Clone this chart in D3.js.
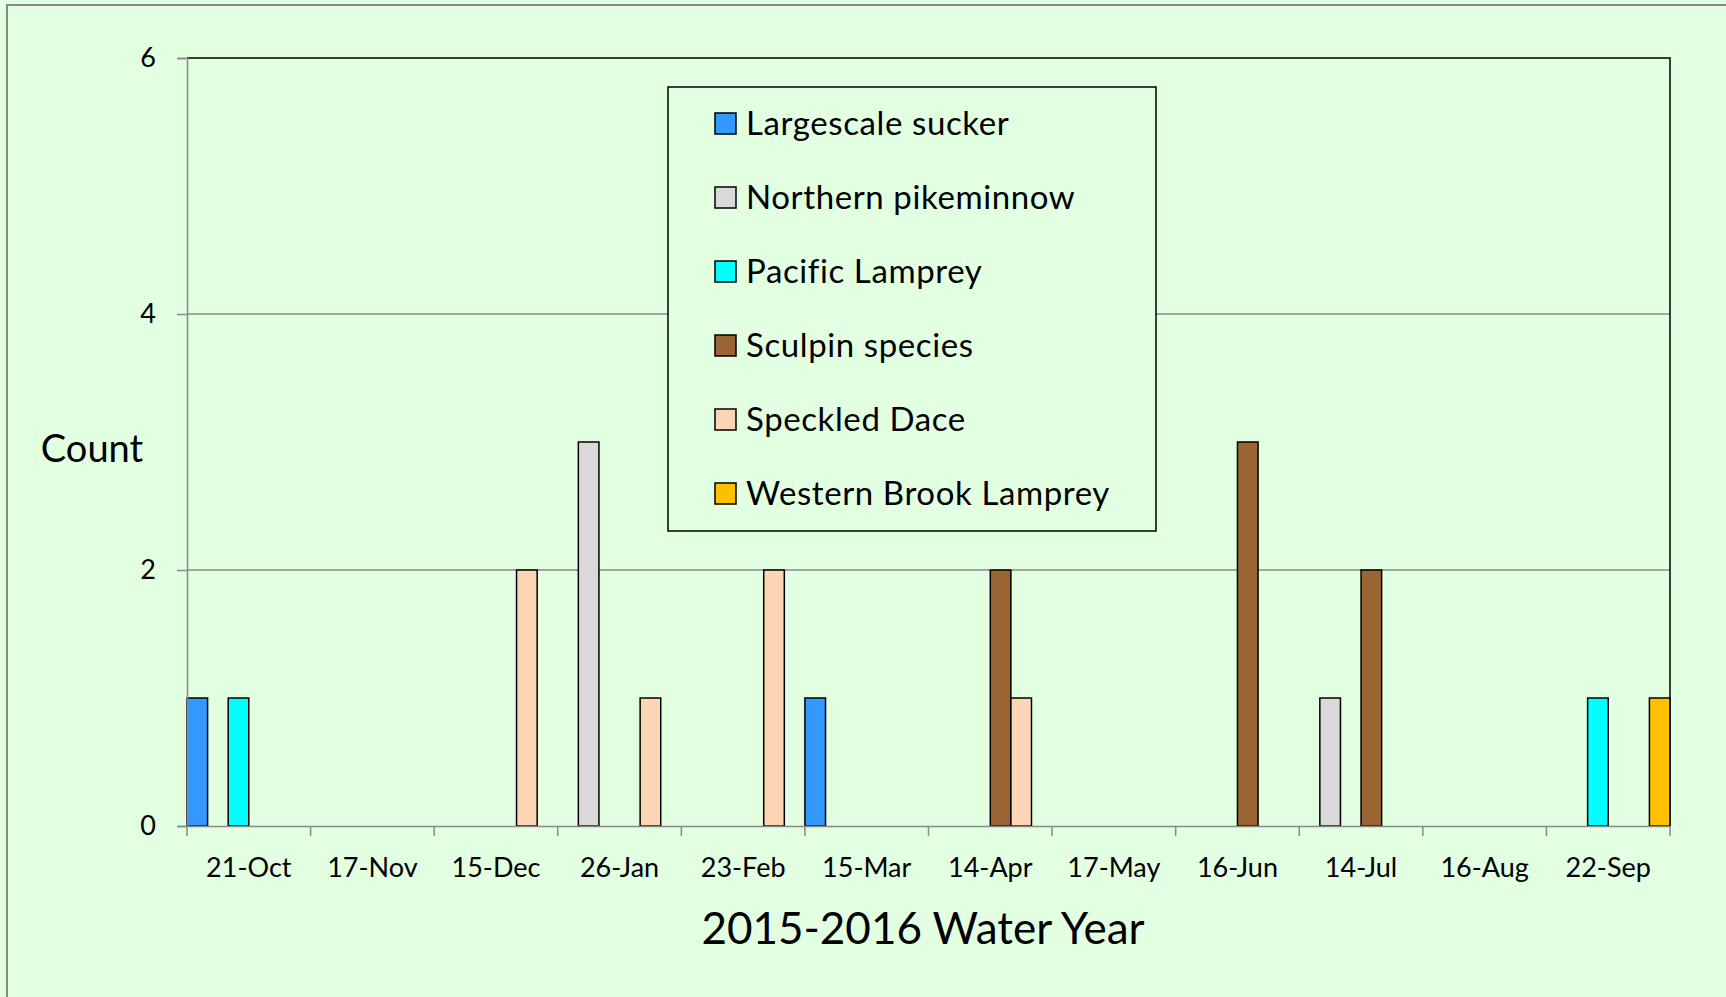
<!DOCTYPE html>
<html>
<head>
<meta charset="utf-8">
<script src="https://cdn.jsdelivr.net/npm/d3@7"></script>
<style>
  html, body { margin: 0; padding: 0; background: #E2FFE2; }
  svg { display: block; }
  text { font-family: Lato, "Open Sans", sans-serif; fill: #000; }
</style>
</head>
<body>
<svg id="chart" width="1726" height="997"></svg>
<script>
const categories = ["21-Oct", "17-Nov", "15-Dec", "26-Jan", "23-Feb", "15-Mar", "14-Apr", "17-May", "16-Jun", "14-Jul", "16-Aug", "22-Sep"];
const seriesNames = ["Largescale sucker", "Northern pikeminnow", "Pacific Lamprey", "Sculpin species", "Speckled Dace", "Western Brook Lamprey"];
const seriesColors = ["#3399FF", "#D9D9D9", "#00FFFF", "#996633", "#FCD5B5", "#FFC000"];
const largescaleSucker    = [1, 0, 0, 0, 0, 1, 0, 0, 0, 0, 0, 0];
const northernPikeminnow  = [0, 0, 0, 3, 0, 0, 0, 0, 0, 1, 0, 0];
const pacificLamprey      = [1, 0, 0, 0, 0, 0, 0, 0, 0, 0, 0, 1];
const sculpinSpecies      = [0, 0, 0, 0, 0, 0, 2, 0, 3, 2, 0, 0];
const speckledDace        = [0, 0, 2, 1, 2, 0, 1, 0, 0, 0, 0, 0];
const westernBrookLamprey = [0, 0, 0, 0, 0, 0, 0, 0, 0, 0, 0, 1];
const yTicks = [0, 2, 4, 6];
const yLabel = "Count";
const xLabel = "2015-2016 Water Year";

const seriesValues = [largescaleSucker, northernPikeminnow, pacificLamprey, sculpinSpecies, speckledDace, westernBrookLamprey];

const svg = d3.select("#chart");
const plot = { left: 187, right: 1670, top: 58, bottom: 826 };

// outer chart border
svg.append("rect")
  .attr("x", 7).attr("y", 5).attr("width", 1740).attr("height", 1010)
  .attr("fill", "#E2FFE2").attr("stroke", "#898989").attr("stroke-width", 2);

const x = d3.scaleBand().domain(categories).range([plot.left, plot.right]).padding(0);
const xs = d3.scaleBand().domain(seriesNames).range([0, x.bandwidth()]).padding(0);
const y = d3.scaleLinear().domain([0, 6]).range([plot.bottom, plot.top]);

// gridlines
svg.append("g").selectAll("line").data(yTicks.filter(t => t > 0 && t < 6)).join("line")
  .attr("x1", plot.left).attr("x2", plot.right)
  .attr("y1", d => y(d)).attr("y2", d => y(d))
  .attr("stroke", "#898989").attr("stroke-width", 1.5);

// plot area top/right border
svg.append("path")
  .attr("d", `M${plot.left},${plot.top}H${plot.right}V${plot.bottom}`)
  .attr("fill", "none").attr("stroke", "#000").attr("stroke-width", 1.5);

// bars
const flat = [];
seriesValues.forEach((vals, si) => vals.forEach((v, ci) => { if (v > 0) flat.push({ s: seriesNames[si], si, c: categories[ci], v }); }));
svg.append("g").selectAll("rect").data(flat).join("rect")
  .attr("x", d => x(d.c) + xs(d.s))
  .attr("y", d => y(d.v))
  .attr("width", xs.bandwidth())
  .attr("height", d => y(0) - y(d.v))
  .attr("fill", d => seriesColors[d.si])
  .attr("stroke", "#000").attr("stroke-width", 1.5);

// y axis
const yAxis = svg.append("g").attr("transform", `translate(${plot.left},0)`)
  .call(d3.axisLeft(y).tickValues(yTicks).tickSize(10).tickPadding(21).tickFormat(d3.format("d")));
yAxis.select(".domain").attr("stroke", "#898989").attr("stroke-width", 1.5);
yAxis.selectAll(".tick line").attr("stroke", "#898989").attr("stroke-width", 1.5);
yAxis.selectAll(".tick text").attr("font-size", 27).attr("font-family", "Lato").attr("fill", "#000");

// x axis
const xAxis = svg.append("g").attr("transform", `translate(0,${plot.bottom})`)
  .call(d3.axisBottom(x).tickSize(0).tickPadding(32));
xAxis.select(".domain").attr("stroke", "#898989").attr("stroke-width", 1.5);
xAxis.selectAll(".tick text").attr("font-size", 27).attr("font-family", "Lato").attr("fill", "#000");
// boundary tick marks
const bounds = categories.map(c => x(c)).concat([plot.right]);
xAxis.append("g").selectAll("line").data(bounds).join("line")
  .attr("x1", d => d).attr("x2", d => d).attr("y1", 0).attr("y2", 10)
  .attr("stroke", "#898989").attr("stroke-width", 1.5);

// axis titles
svg.append("text").attr("x", 92).attr("y", 462).attr("text-anchor", "middle")
  .attr("font-size", 38).text(yLabel);
svg.append("text").attr("x", 923).attr("y", 944).attr("text-anchor", "middle")
  .attr("font-size", 44).text(xLabel);

// legend
const lg = svg.append("g");
lg.append("rect").attr("x", 668).attr("y", 87).attr("width", 488).attr("height", 444)
  .attr("fill", "#E2FFE2").attr("stroke", "#000").attr("stroke-width", 1.5);
const ly = d3.scalePoint().domain(seriesNames).range([124, 494]);
const items = lg.selectAll("g.item").data(seriesNames).join("g").attr("class", "item")
  .attr("transform", d => `translate(0,${ly(d)})`);
items.append("rect").attr("x", 715).attr("y", -11).attr("width", 21).attr("height", 21)
  .attr("fill", (d, i) => seriesColors[i]).attr("stroke", "#000").attr("stroke-width", 1.5);
items.append("text").attr("x", 746).attr("y", 11).attr("font-size", 33)
  .attr("letter-spacing", 0.6).text(d => d);
</script>
</body>
</html>
